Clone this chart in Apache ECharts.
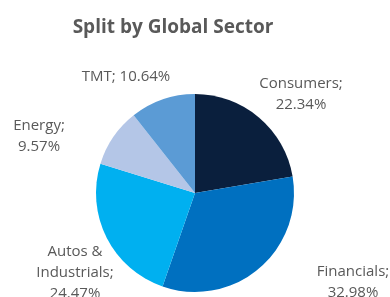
<!DOCTYPE html>
<html lang="en">
<head>
    <meta charset="utf-8">
    <script src="https://cdn.jsdelivr.net/npm/echarts@6/dist/echarts.min.js"></script>
    <title></title>
    <style>
        html, body {margin: 0; padding: 0; background: #fff;}
    </style>
</head>
<body>
<div id="main" style="width: 390px;height:297px;"></div>
<script type="text/javascript">
    var sectors = ['Consumers', 'Financials', 'Autos & Industrials', 'Energy', 'TMT'];
    var shares = [22.34, 32.98, 24.47, 9.57, 10.64];
    // how each label is broken into lines
    var labelTexts = ['Consumers;\n22.34%', 'Financials;\n32.98%', 'Autos &\nIndustrials;\n24.47%', 'Energy;\n9.57%', 'TMT; 10.64%'];
    var colors = ['#0a1f3d', '#0070c0', '#00b0f0', '#b4c6e7', '#5b9bd5'];

    var pieCenter = [195, 193];
    // label centres relative to the pie centre ("best fit" placement)
    var labelOffsets = [[106, -99], [158, 89], [-120, 80], [-156, -57], [-69, -116]];

    var myChart = echarts.init(document.getElementById('main'));

    var pieData = sectors.map(function (name, i) {
        return {name: name, value: shares[i], itemStyle: {color: colors[i]}};
    });

    var option = {
        animation: false,
        title: {
            text: 'Split by Global Sector',
            left: 168,
            top: 13,
            textAlign: 'center',
            textStyle: {
                fontFamily: 'Open Sans',
                fontWeight: 'bold',
                fontSize: 19,
                color: '#595959'
            }
        },
        series: [
            {
                type: 'pie',
                center: pieCenter,
                radius: 99,
                startAngle: 90,
                clockwise: true,
                data: pieData,
                label: {
                    show: true,
                    position: 'outside',
                    alignTo: 'none',
                    overflow: 'none',
                    align: 'center',
                    fontFamily: 'Open Sans',
                    fontSize: 15,
                    lineHeight: 21,
                    color: '#595959',
                    formatter: function (p) {
                        return labelTexts[p.dataIndex];
                    }
                },
                labelLine: {show: false},
                labelLayout: function (p) {
                    var off = labelOffsets[p.dataIndex];
                    return {
                        x: pieCenter[0] + off[0],
                        y: pieCenter[1] + off[1],
                        width: 200,
                        align: 'center',
                        verticalAlign: 'middle'
                    };
                }
            }
        ]
    };

    myChart.setOption(option);
</script>
</body>
</html>
